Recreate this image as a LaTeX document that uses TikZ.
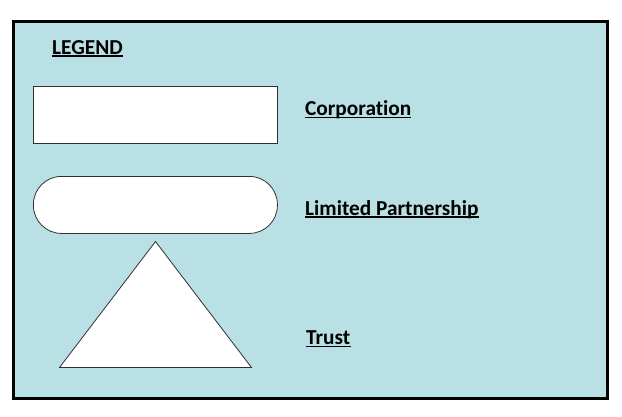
\documentclass[tikz,border=0pt]{standalone}
\usepackage{fontspec}
\setmainfont[Ligatures={NoCommon},RawFeature={-liga;-clig;-dlig}]{Carlito}
\definecolor{legendbg}{HTML}{B9E0E4}
\definecolor{shapeline}{HTML}{303030}
\begin{document}
\begin{tikzpicture}[x=1pt,y=-1pt,
  shapebox/.style={draw=shapeline,line width=0.8pt,fill=white},
  lbl/.style={anchor=base west,inner sep=0pt,font=\fontsize{21.3}{24}\selectfont\bfseries},
  uline/.style={line width=1.3pt,black}]
\useasboundingbox (0,0) rectangle (622,416);
\node[draw=black,line width=2.6pt,fill=legendbg,minimum width=594pt,minimum height=377pt,inner sep=0pt,anchor=north west] (frame) at (12,20) {};
% shapes
\node[shapebox,minimum width=244pt,minimum height=57pt,inner sep=0pt,anchor=north west] (corp) at (33,86) {};
\node[shapebox,rounded corners=28pt,minimum width=244pt,minimum height=57pt,inner sep=0pt,anchor=north west] (lp) at (33,176) {};
\coordinate (tA) at (155.5,241.5);
\coordinate (tB) at (59.5,367.5);
\coordinate (tC) at (251.5,367.5);
\draw[shapebox,line join=miter] (tA) -- (tB) -- (tC) -- cycle;
% labels
\node[lbl] (legend) at (52,54) {LEGEND};
\node[lbl] (corpl) at (305,115.5) {Corporation};
\node[lbl] (lpl) at (305,215) {Limited Partnership};
\node[lbl] (trustl) at (306,344.5) {Trust};
\foreach \n in {legend,corpl,lpl,trustl}{
  \draw[uline] ([yshift=-2pt]\n.base west) -- ([yshift=-2pt]\n.base east);
}
\end{tikzpicture}
\end{document}
